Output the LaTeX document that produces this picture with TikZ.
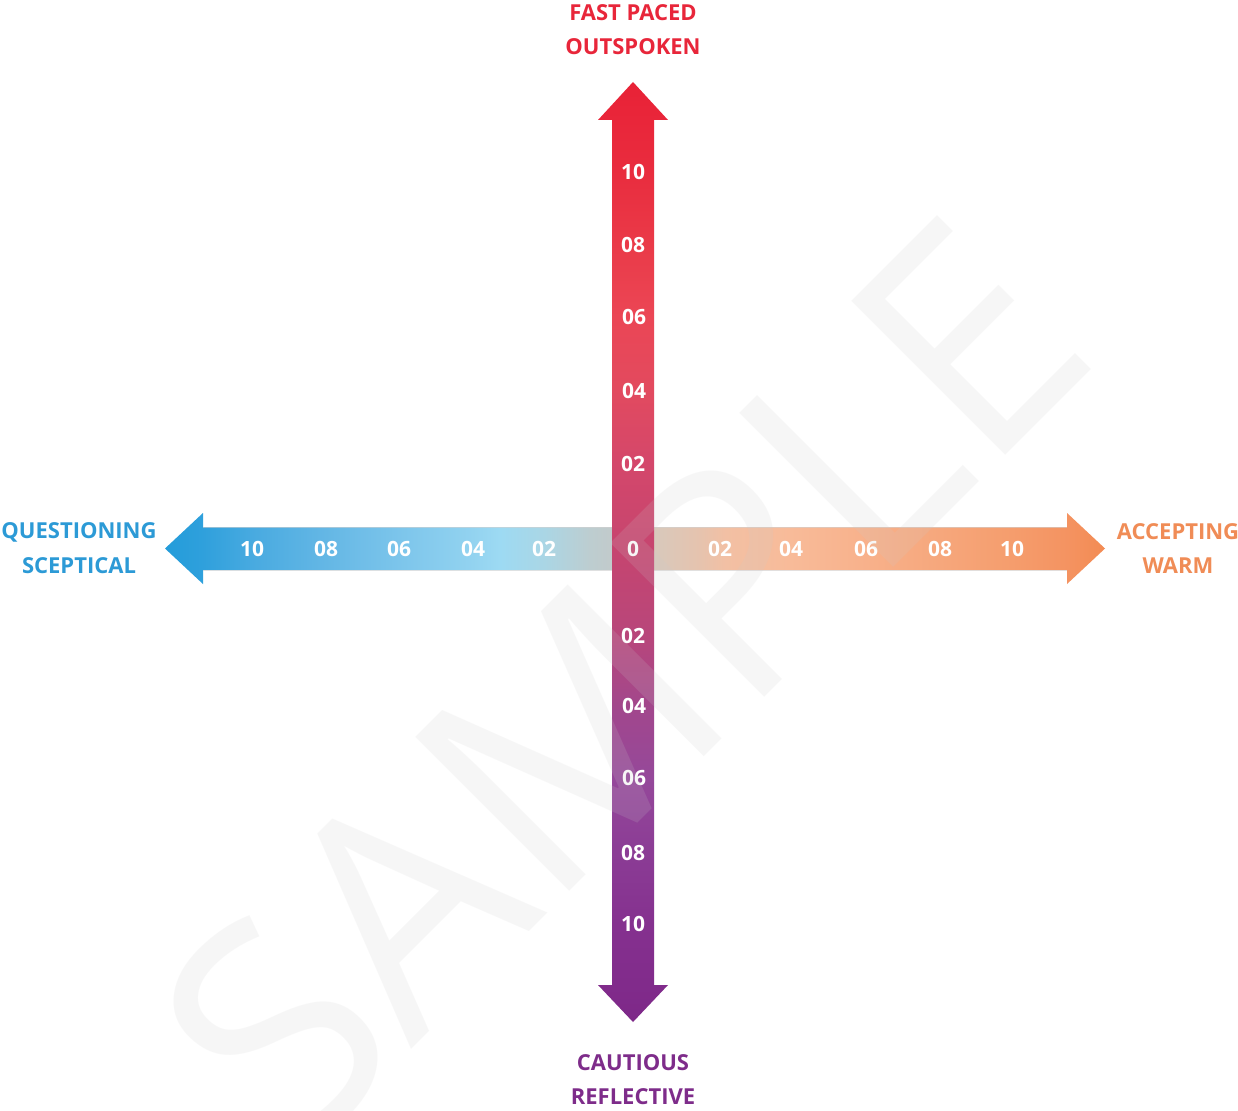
\documentclass[tikz,border=0pt]{standalone}
\usepackage{fontspec}
\setmainfont{Open Sans}
\newfontfamily\wmfont{Open Sans}

% label colours
\definecolor{cRed}{HTML}{E8263A}
\definecolor{cBlue}{HTML}{2C9AD6}
\definecolor{cOrange}{HTML}{F08C56}
\definecolor{cPurple}{HTML}{7E2C8A}

% vertical axis stops (bottom to top)
\definecolor{v00}{HTML}{7D2888}
\definecolor{v01}{HTML}{812B8B}
\definecolor{v02}{HTML}{85318F}
\definecolor{v03}{HTML}{8B3C95}
\definecolor{v04}{HTML}{95489A}
\definecolor{v05}{HTML}{A2478C}
\definecolor{v06}{HTML}{B8467B}
\definecolor{v07}{HTML}{C6456F}
\definecolor{v08}{HTML}{D4476B}
\definecolor{v09}{HTML}{E24A5F}
\definecolor{v10}{HTML}{EB4655}
\definecolor{v11}{HTML}{EA3A48}
\definecolor{v12}{HTML}{E92C3E}
\definecolor{v13}{HTML}{E9263A}
\definecolor{v14}{HTML}{E82236}

% horizontal axis stops (left to right)
\definecolor{h00}{HTML}{239CDA}
\definecolor{h01}{HTML}{2FA0DC}
\definecolor{h02}{HTML}{48AAE0}
\definecolor{h03}{HTML}{64B7E5}
\definecolor{h04}{HTML}{7CC5EB}
\definecolor{h05}{HTML}{93D3F0}
\definecolor{h06}{HTML}{9DDAF3}
\definecolor{h07}{HTML}{AAD6E5}
\definecolor{h08}{HTML}{BDCDD0}
\definecolor{h09}{HTML}{C6C8C6}
\definecolor{h10}{HTML}{D8C9BC}
\definecolor{h11}{HTML}{E6C3AE}
\definecolor{h12}{HTML}{F2C0A4}
\definecolor{h13}{HTML}{F8BB99}
\definecolor{h14}{HTML}{F8B18B}
\definecolor{h15}{HTML}{F6A77C}
\definecolor{h16}{HTML}{F59D6D}
\definecolor{h17}{HTML}{F49361}
\definecolor{h18}{HTML}{F38B53}

% the visible part of a 100bp shading runs from 25bp to 75bp
\pgfdeclareverticalshading{vgrad}{100bp}{%
  color(0bp)=(v00); color(25bp)=(v00); color(26.97bp)=(v01);
  color(30.2bp)=(v02); color(33.99bp)=(v03); color(37.98bp)=(v04);
  color(41.8bp)=(v05); color(45.53bp)=(v06); color(50.2bp)=(v07);
  color(54.7bp)=(v08); color(58.6bp)=(v09); color(62.55bp)=(v10);
  color(66.33bp)=(v11); color(70.3bp)=(v12); color(72.98bp)=(v13);
  color(75bp)=(v14); color(100bp)=(v14)}
\pgfdeclarehorizontalshading{hgrad}{100bp}{%
  color(0bp)=(h00); color(25bp)=(h00); color(27.02bp)=(h01);
  color(29.63bp)=(h02); color(33.56bp)=(h03); color(37.45bp)=(h04);
  color(41.38bp)=(h05); color(42.8bp)=(h06); color(45.16bp)=(h07);
  color(47.6bp)=(h08); color(49.9bp)=(h09); color(51.06bp)=(h10);
  color(53.46bp)=(h11); color(54.8bp)=(h12); color(58.24bp)=(h13);
  color(62.29bp)=(h14); color(66.2bp)=(h15); color(70.05bp)=(h16);
  color(73bp)=(h17); color(75bp)=(h18); color(100bp)=(h18)}

\tikzset{
  lbl/.style={inner sep=0pt, font=\bfseries\fontsize{22}{26}\selectfont},
  num/.style={inner sep=0pt, text=white, font=\bfseries\fontsize{21}{24}\selectfont},
  watermark/.style={inner sep=0pt, rotate=45, text=black!20, opacity=0.16,
    font=\wmfont\fontsize{305}{305}\selectfont},
  shaftedge/.style={draw=black!18, line width=0.8pt},
}

\begin{document}
\begin{tikzpicture}[x=1pt, y=-1pt]
\useasboundingbox (0,0) rectangle (1238,1110);
\fill[white] (0,0) rectangle (1238,1110);

% centre of the cross
\coordinate (O) at (633,548.5);

% horizontal double arrow
\shade[shading=hgrad]
  (203,527) -- (203,513) -- (165,548.5) -- (203,584) -- (203,570)
  -- (1067,570) -- (1067,584) -- (1105,548.5) -- (1067,513) -- (1067,527) -- cycle;
\draw[shaftedge, opacity=0.6] (203,527) -- (1067,527) (203,570) -- (1067,570);

% vertical double arrow
\shade[shading=vgrad]
  (612,120) -- (598,120) -- (633,82) -- (668,120) -- (654,120)
  -- (654,985) -- (668,985) -- (633,1022) -- (598,985) -- (612,985) -- cycle;

% scale on the vertical axis
\node[num] (u10) at (633,172) {10};
\node[num] (u08) at (633,245) {08};
\node[num] (u06) at (634,317) {06};
\node[num] (u04) at (634,391) {04};
\node[num] (u02) at (633,464) {02};
\node[num] (zero) at (O) {0};
\node[num] (d02) at (633,636) {02};
\node[num] (d04) at (634,706) {04};
\node[num] (d06) at (634,778) {06};
\node[num] (d08) at (633,853) {08};
\node[num] (d10) at (633,924) {10};

% scale on the horizontal axis
\node[num] (l10) at (252,548.5) {10};
\node[num] (l08) at (326,548.5) {08};
\node[num] (l06) at (399,548.5) {06};
\node[num] (l04) at (473,548.5) {04};
\node[num] (l02) at (544,548.5) {02};
\node[num] (r02) at (720,548.5) {02};
\node[num] (r04) at (791,548.5) {04};
\node[num] (r06) at (866,548.5) {06};
\node[num] (r08) at (940,548.5) {08};
\node[num] (r10) at (1012,548.5) {10};

% pole labels
\node[lbl, text=cRed] (topA) at (633,13) {FAST PACED};
\node[lbl, text=cRed] (topB) at (633,47) {OUTSPOKEN};
\node[lbl, text=cBlue] (leftA) at (79,532) {QUESTIONING};
\node[lbl, text=cBlue] (leftB) at (79,566) {SCEPTICAL};
\node[lbl, text=cOrange] (rightA) at (1178,532) {ACCEPTING};
\node[lbl, text=cOrange] (rightB) at (1178,566) {WARM};
\node[lbl, text=cPurple] (botA) at (633,1063) {CAUTIOUS};
\node[lbl, text=cPurple] (botB) at (633,1097) {REFLECTIVE};

% watermark
\begin{scope}
  \clip (0,0) rectangle (1238,1110);
  \node[watermark] (wm) at (622,685) {SAMPLE};
\end{scope}
\end{tikzpicture}
\end{document}
